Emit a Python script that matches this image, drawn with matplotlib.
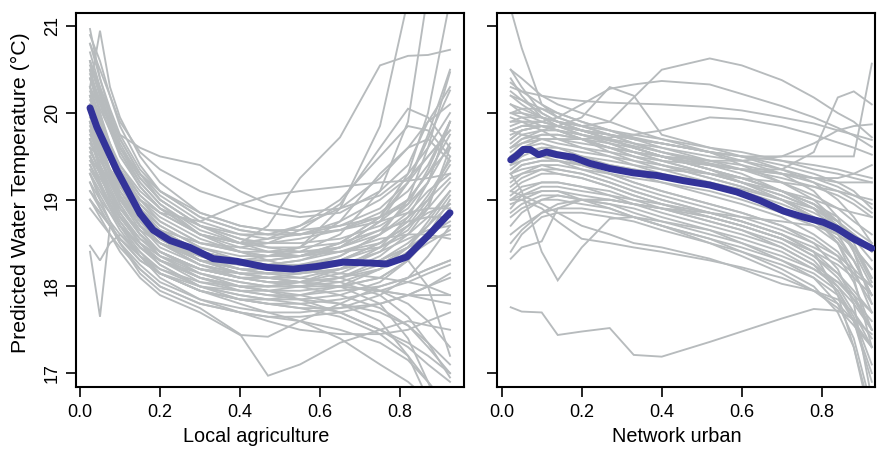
import matplotlib
matplotlib.use("Agg")
import matplotlib.pyplot as plt

plt.rcParams['font.family'] = ['Liberation Sans', 'DejaVu Sans']

# ---------------- Left panel: Local agriculture ----------------
x_left = [0.025, 0.05, 0.075, 0.1, 0.15, 0.2, 0.3, 0.4, 0.47, 0.55, 0.65, 0.75, 0.82, 0.87, 0.925]

gray_left = [
    [20.3, 20.95, 20.3, 19.95, 19.5, 19.2, 18.85, 18.7, 18.65, 18.6, 18.65, 18.8, 19.0, 19.3, 19.6],
    [20.97, 20.4, 20.0, 19.7, 19.3, 19.0, 18.7, 18.5, 18.4, 18.35, 18.4, 18.5, 18.7, 18.9, 19.2],
    [20.8, 20.5, 20.2, 19.9, 19.55, 19.35, 19.1, 18.95, 18.85, 18.8, 18.85, 19.1, 19.4, 19.9, 20.3],
    [20.6, 20.2, 19.9, 19.6, 19.25, 19.0, 18.7, 18.55, 18.5, 18.5, 18.55, 18.7, 18.9, 19.2, 19.9],
    [20.5, 20.1, 19.8, 19.5, 19.15, 18.9, 18.6, 18.5, 18.7, 19.25, 19.72, 20.55, 20.66, 20.67, 20.73],
    [20.4, 20.1, 19.9, 19.75, 19.6, 19.5, 19.4, 19.1, 18.95, 18.85, 18.9, 19.05, 19.3, 19.6, 20.0],
    [19.6, 19.5, 19.35, 19.2, 19.0, 18.85, 18.75, 18.95, 19.05, 19.1, 19.15, 19.2, 19.22, 19.25, 19.3],
    [20.2, 19.9, 19.6, 19.35, 19.0, 18.75, 18.5, 18.4, 18.4, 18.45, 18.9, 19.85, 21.3, 21.5, 21.5],
    [19.9, 19.6, 19.35, 19.15, 18.9, 18.7, 18.45, 18.35, 18.35, 18.4, 18.6, 19.1, 19.9, 21.4, 22.5],
    [20.0, 19.7, 19.45, 19.2, 18.9, 18.65, 18.4, 18.3, 18.3, 18.35, 18.5, 18.8, 19.3, 20.0, 21.3],
    [19.8, 19.5, 19.2, 19.0, 18.7, 18.5, 18.3, 18.2, 18.2, 18.25, 18.35, 18.6, 19.0, 19.6, 20.47],
    [20.1, 19.8, 19.5, 19.25, 18.95, 18.75, 18.5, 18.4, 18.35, 18.35, 18.45, 18.75, 19.2, 19.7, 20.26],
    [19.7, 19.4, 19.2, 19.0, 18.8, 18.65, 18.5, 18.45, 18.5, 18.65, 18.95, 19.6, 20.05, 19.95, 19.6],
    [20.3, 19.95, 19.6, 19.35, 19.05, 18.85, 18.6, 18.5, 18.55, 18.7, 19.0, 19.5, 19.85, 19.8, 19.5],
    [19.5, 19.3, 19.1, 18.9, 18.65, 18.5, 18.35, 18.3, 18.35, 18.45, 18.75, 19.3, 19.6, 19.7, 19.45],
    [19.9, 19.5, 19.2, 18.95, 18.6, 18.4, 18.2, 18.1, 18.1, 18.1, 18.2, 18.4, 18.7, 19.0, 19.4],
    [19.5, 19.2, 18.95, 18.75, 18.45, 18.3, 18.15, 18.05, 18.0, 18.0, 18.05, 18.2, 18.45, 18.75, 19.1],
    [20.2, 19.8, 19.45, 19.15, 18.8, 18.55, 18.35, 18.25, 18.2, 18.2, 18.3, 18.5, 18.7, 18.85, 18.95],
    [19.3, 19.1, 18.9, 18.7, 18.45, 18.3, 18.1, 18.0, 17.95, 17.95, 18.0, 18.1, 18.3, 18.55, 18.9],
    [20.5, 20.0, 19.6, 19.3, 18.9, 18.65, 18.4, 18.3, 18.25, 18.3, 18.4, 18.55, 18.6, 18.6, 18.55],
    [19.7, 19.35, 19.05, 18.8, 18.5, 18.3, 18.05, 17.95, 17.9, 17.9, 17.95, 18.0, 18.1, 18.2, 18.3],
    [19.1, 18.95, 18.75, 18.6, 18.35, 18.15, 17.95, 17.85, 17.85, 17.9, 18.0, 18.2, 18.4, 18.6, 18.75],
    [20.0, 19.65, 19.3, 19.05, 18.7, 18.45, 18.25, 18.15, 18.15, 18.2, 18.35, 18.6, 18.85, 19.1, 19.3],
    [19.6, 19.3, 19.0, 18.8, 18.5, 18.3, 18.1, 18.0, 18.0, 18.05, 18.15, 18.35, 18.6, 18.9, 19.6],
    [20.3, 19.9, 19.55, 19.25, 18.85, 18.6, 18.3, 18.15, 18.1, 18.05, 18.0, 17.95, 17.9, 17.85, 17.8],
    [19.8, 19.4, 19.1, 18.85, 18.5, 18.25, 18.0, 17.9, 17.85, 17.8, 17.7, 17.5, 17.3, 17.1, 16.9],
    [19.4, 19.15, 18.9, 18.7, 18.4, 18.15, 17.95, 17.85, 17.8, 17.75, 17.65, 17.45, 17.2, 16.9, 16.5],
    [20.0, 19.6, 19.3, 19.0, 18.65, 18.4, 18.15, 18.0, 17.95, 17.85, 17.7, 17.5, 17.35, 17.2, 17.0],
    [19.2, 18.9, 18.7, 18.5, 18.2, 18.0, 17.8, 17.7, 17.65, 17.6, 17.5, 17.35, 17.15, 16.9, 16.6],
    [19.5, 19.2, 18.95, 18.7, 18.35, 18.1, 17.85, 17.7, 17.6, 17.5, 17.45, 17.45, 17.5, 17.6, 17.7],
    [18.9, 18.75, 18.6, 18.45, 18.2, 18.0, 17.8, 17.7, 17.65, 17.65, 17.7, 17.8, 17.9, 18.0, 18.1],
    [19.3, 19.0, 18.75, 18.5, 18.15, 17.95, 17.75, 17.45, 16.97, 17.1, 17.35, 17.5, 17.6, 17.55, 17.5],
    [19.0, 18.8, 18.6, 18.4, 18.1, 17.9, 17.7, 17.44, 17.42, 17.6, 17.8, 18.0, 18.1, 18.2, 18.3],
    [18.4, 17.65, 18.7, 18.55, 18.3, 18.15, 17.95, 17.85, 17.8, 17.8, 17.85, 17.95, 18.05, 18.15, 18.25],
    [18.47, 18.3, 18.5, 18.6, 18.4, 18.2, 18.0, 17.9, 17.85, 17.85, 17.9, 18.05, 18.3, 18.6, 19.0],
    [19.6, 19.3, 19.0, 18.8, 18.5, 18.3, 18.1, 18.0, 17.95, 17.9, 17.8, 17.6, 17.2, 16.7, 16.0],
    [20.1, 19.7, 19.35, 19.1, 18.75, 18.5, 18.25, 18.15, 18.1, 18.05, 18.0, 17.8, 17.4, 16.9, 16.3],
    [19.9, 19.5, 19.2, 18.95, 18.6, 18.35, 18.15, 18.05, 18.0, 18.0, 18.0, 18.1, 18.3, 18.0, 17.2],
    [19.3, 19.05, 18.85, 18.65, 18.35, 18.15, 17.95, 17.8, 17.7, 17.6, 17.4, 17.1, 16.9, 16.7, 16.5],
    [20.7, 20.3, 19.95, 19.65, 19.25, 19.0, 18.7, 18.55, 18.45, 18.4, 18.4, 18.45, 18.6, 18.8, 19.1],
    [20.4, 20.0, 19.65, 19.35, 18.95, 18.7, 18.45, 18.3, 18.25, 18.25, 18.3, 18.45, 18.65, 18.95, 19.5],
    [19.9, 19.6, 19.3, 19.05, 18.7, 18.5, 18.3, 18.25, 18.25, 18.3, 18.45, 18.75, 19.0, 19.3, 19.75],
    [20.6, 20.25, 19.9, 19.6, 19.2, 18.95, 18.65, 18.5, 18.45, 18.45, 18.5, 18.65, 18.75, 18.8, 18.8],
    [19.0, 18.85, 18.7, 18.55, 18.3, 18.15, 18.0, 17.95, 17.95, 18.0, 18.1, 18.3, 18.5, 18.7, 18.95],
    [20.2, 19.85, 19.5, 19.2, 18.8, 18.55, 18.3, 18.2, 18.15, 18.15, 18.2, 18.3, 18.45, 18.55, 18.6],
    [19.7, 19.4, 19.15, 18.9, 18.6, 18.4, 18.2, 18.1, 18.05, 18.05, 18.1, 18.25, 18.45, 18.7, 19.05],
    [20.9, 20.6, 20.2, 19.85, 19.4, 19.1, 18.8, 18.65, 18.6, 18.6, 18.7, 18.9, 19.2, 19.5, 19.8],
    [19.8, 19.55, 19.3, 19.1, 18.8, 18.6, 18.4, 18.3, 18.25, 18.2, 18.15, 18.1, 18.05, 18.0, 17.9],
    [20.3, 20.05, 19.8, 19.55, 19.2, 18.95, 18.6, 18.4, 18.3, 18.2, 18.1, 17.95, 17.8, 17.6, 17.3],
    [19.2, 19.0, 18.85, 18.7, 18.5, 18.35, 18.2, 18.15, 18.15, 18.2, 18.3, 18.5, 18.75, 19.05, 19.45],
    [20.0, 19.75, 19.5, 19.3, 19.0, 18.8, 18.55, 18.4, 18.35, 18.35, 18.45, 18.65, 18.95, 19.35, 19.9],
    [19.4, 19.2, 18.95, 18.75, 18.45, 18.25, 18.0, 17.85, 17.8, 17.75, 17.75, 17.8, 17.9, 18.0, 18.15],
    [20.6, 20.3, 20.0, 19.7, 19.3, 19.05, 18.75, 18.6, 18.55, 18.6, 18.75, 19.0, 19.25, 19.5, 19.8],
    [19.95, 19.7, 19.45, 19.2, 18.85, 18.6, 18.35, 18.2, 18.15, 18.1, 18.05, 17.9, 17.65, 17.35, 16.95],
    [19.55, 19.35, 19.1, 18.9, 18.6, 18.4, 18.2, 18.1, 18.1, 18.15, 18.25, 18.4, 18.55, 18.65, 18.7],
    [20.45, 20.15, 19.85, 19.6, 19.3, 19.1, 18.85, 18.7, 18.65, 18.65, 18.7, 18.8, 18.95, 19.2, 19.65],
    [19.1, 18.9, 18.7, 18.5, 18.25, 18.05, 17.85, 17.75, 17.7, 17.7, 17.75, 17.9, 18.1, 18.35, 18.7],
    [20.15, 19.9, 19.6, 19.4, 19.05, 18.85, 18.6, 18.5, 18.5, 18.55, 18.65, 18.85, 19.1, 19.4, 19.9],
    [19.75, 19.5, 19.25, 19.0, 18.7, 18.5, 18.25, 18.1, 18.05, 18.0, 17.9, 17.75, 17.55, 17.3, 17.0],
    [20.8, 20.4, 20.05, 19.75, 19.35, 19.1, 18.8, 18.65, 18.6, 18.6, 18.65, 18.75, 18.85, 18.9, 18.9],
    [19.35, 19.15, 18.95, 18.8, 18.55, 18.4, 18.2, 18.1, 18.05, 18.05, 18.1, 18.2, 18.35, 18.5, 18.65],
    [20.05, 19.75, 19.45, 19.2, 18.85, 18.65, 18.4, 18.3, 18.3, 18.35, 18.5, 18.8, 19.2, 19.75, 20.5],
    [19.65, 19.45, 19.25, 19.05, 18.75, 18.55, 18.3, 18.15, 18.1, 18.05, 18.0, 17.95, 17.9, 17.9, 17.9],
    [20.55, 20.2, 19.85, 19.55, 19.15, 18.9, 18.6, 18.45, 18.4, 18.4, 18.45, 18.6, 18.8, 19.0, 19.25],
    [19.0, 18.85, 18.7, 18.55, 18.35, 18.2, 18.05, 18.0, 18.0, 18.05, 18.2, 18.45, 18.8, 19.2, 19.9],
    [20.25, 19.95, 19.65, 19.4, 19.1, 18.9, 18.7, 18.6, 18.6, 18.7, 18.9, 19.25, 19.6, 19.9, 20.1],
    [19.85, 19.55, 19.3, 19.05, 18.75, 18.55, 18.3, 18.2, 18.15, 18.15, 18.2, 18.3, 18.45, 18.6, 18.85],
    [19.45, 19.25, 19.05, 18.85, 18.55, 18.35, 18.1, 17.95, 17.9, 17.85, 17.8, 17.7, 17.55, 17.35, 17.1],
]

mean_left_x = [0.025, 0.042, 0.067, 0.092, 0.121, 0.15, 0.183, 0.225, 0.275, 0.333,
               0.392, 0.467, 0.533, 0.592, 0.658, 0.725, 0.767, 0.817, 0.867, 0.925]
mean_left_y = [20.06, 19.84, 19.59, 19.34, 19.09, 18.84, 18.65, 18.53, 18.45, 18.32,
               18.29, 18.22, 18.20, 18.23, 18.28, 18.27, 18.26, 18.34, 18.57, 18.85]

# ---------------- Right panel: Network urban ----------------
x_right = [0.0225, 0.05, 0.1, 0.14, 0.2, 0.27, 0.33, 0.4, 0.52, 0.6, 0.7, 0.78, 0.84, 0.88, 0.925]

gray_right = [
    [21.2, 20.75, 20.1, 19.95, 19.85, 19.75, 19.65, 19.55, 19.4, 19.3, 19.1, 18.9, 18.6, 18.3, 17.9],
    [19.9, 19.95, 19.95, 19.9, 19.85, 19.9, 20.18, 20.5, 20.63, 20.55, 20.38, 20.18, 20.0, 19.9, 19.72],
    [19.8, 19.85, 19.9, 19.95, 20.1, 20.28, 20.33, 20.37, 20.33, 20.22, 20.08, 19.95, 19.83, 19.74, 19.61],
    [20.3, 20.25, 20.2, 20.17, 20.14, 20.12, 20.11, 20.1, 20.07, 20.03, 19.95, 19.88, 19.8, 19.75, 19.69],
    [19.6, 19.7, 19.8, 19.85, 19.95, 20.3, 20.2, 19.75, 19.6, 19.5, 19.35, 19.2, 19.0, 18.8, 18.5],
    [19.5, 19.6, 19.7, 19.7, 19.7, 19.72, 19.75, 19.8, 19.95, 19.93, 19.85, 19.75, 19.66, 19.6, 19.52],
    [19.7, 19.8, 19.85, 19.8, 19.75, 19.68, 19.62, 19.55, 19.42, 19.35, 19.35, 19.55, 20.18, 20.25, 20.1],
    [20.0, 20.05, 20.05, 20.0, 19.9, 19.8, 19.72, 19.65, 19.55, 19.5, 19.5, 19.5, 19.5, 19.5, 20.57],
    [17.76, 17.71, 17.70, 17.44, 17.48, 17.52, 17.21, 17.19, 17.36, 17.48, 17.63, 17.74, 17.72, 17.62, 17.45],
    [19.3, 19.1, 18.4, 18.07, 18.45, 18.78, 18.8, 18.75, 18.65, 18.55, 18.4, 18.2, 18.0, 17.8, 17.5],
    [18.32, 18.45, 18.52, 18.9, 19.0, 19.0, 18.95, 18.9, 18.75, 18.65, 18.45, 18.25, 18.05, 17.85, 17.6],
    [19.0, 19.0, 18.9, 18.75, 18.55, 18.5, 18.45, 18.4, 18.3, 18.22, 18.1, 17.95, 17.8, 17.6, 17.3],
    [19.1, 19.05, 18.95, 18.85, 18.7, 18.6, 18.5, 18.45, 18.32, 18.2, 18.03, 17.95, 17.85, 17.7, 17.4],
    [19.5, 19.6, 19.65, 19.6, 19.5, 19.4, 19.35, 19.28, 19.15, 19.05, 18.9, 18.75, 18.6, 18.45, 18.2],
    [19.2, 19.3, 19.4, 19.4, 19.35, 19.3, 19.25, 19.2, 19.1, 19.0, 18.85, 18.7, 18.5, 18.3, 17.9],
    [19.8, 19.85, 19.85, 19.8, 19.7, 19.6, 19.55, 19.5, 19.4, 19.35, 19.25, 19.15, 19.05, 18.95, 18.8],
    [20.2, 20.1, 19.95, 19.85, 19.75, 19.65, 19.6, 19.5, 19.35, 19.2, 19.0, 18.8, 18.5, 18.2, 17.7],
    [18.9, 19.05, 19.15, 19.15, 19.1, 19.05, 19.0, 18.95, 18.85, 18.75, 18.6, 18.4, 18.15, 17.9, 17.5],
    [19.4, 19.45, 19.5, 19.5, 19.45, 19.4, 19.35, 19.3, 19.2, 19.12, 19.0, 18.9, 18.75, 18.6, 18.4],
    [20.4, 20.2, 19.95, 19.85, 19.8, 19.75, 19.7, 19.65, 19.55, 19.45, 19.3, 19.1, 18.8, 18.4, 17.8],
    [19.0, 19.1, 19.2, 19.2, 19.15, 19.05, 18.95, 18.85, 18.7, 18.6, 18.45, 18.25, 17.95, 17.6, 16.9],
    [19.6, 19.7, 19.75, 19.75, 19.7, 19.6, 19.5, 19.4, 19.25, 19.15, 19.0, 18.8, 18.5, 18.1, 17.3],
    [19.3, 19.4, 19.45, 19.45, 19.4, 19.3, 19.2, 19.1, 18.95, 18.85, 18.7, 18.5, 18.2, 17.8, 16.7],
    [20.0, 19.95, 19.85, 19.8, 19.7, 19.6, 19.5, 19.4, 19.25, 19.15, 19.0, 18.85, 18.7, 18.6, 18.45],
    [19.1, 19.2, 19.3, 19.3, 19.25, 19.15, 19.05, 18.95, 18.8, 18.7, 18.55, 18.4, 18.25, 18.1, 17.9],
    [19.7, 19.8, 19.85, 19.85, 19.8, 19.75, 19.7, 19.65, 19.55, 19.5, 19.4, 19.3, 19.2, 19.1, 18.9],
    [20.5, 20.3, 20.0, 19.9, 19.8, 19.7, 19.6, 19.5, 19.35, 19.25, 19.1, 18.95, 18.8, 18.65, 18.5],
    [18.8, 18.9, 19.0, 19.05, 19.0, 18.95, 18.9, 18.8, 18.65, 18.5, 18.3, 18.1, 17.8, 17.4, 16.6],
    [19.9, 19.9, 19.9, 19.85, 19.8, 19.7, 19.6, 19.5, 19.35, 19.25, 19.1, 18.95, 18.7, 18.4, 18.0],
    [19.4, 19.5, 19.6, 19.55, 19.5, 19.45, 19.4, 19.35, 19.3, 19.25, 19.2, 19.15, 19.1, 19.05, 19.0],
    [19.0, 19.05, 19.1, 19.1, 19.05, 19.0, 18.95, 18.9, 18.85, 18.8, 18.75, 18.7, 18.6, 18.45, 18.2],
    [20.1, 20.05, 19.95, 19.9, 19.85, 19.8, 19.75, 19.7, 19.6, 19.55, 19.45, 19.35, 19.3, 19.25, 19.2],
    [19.5, 19.55, 19.55, 19.5, 19.4, 19.3, 19.2, 19.1, 18.95, 18.85, 18.7, 18.55, 18.35, 18.05, 17.5],
    [18.6, 18.7, 18.85, 18.9, 18.9, 18.85, 18.8, 18.7, 18.55, 18.4, 18.2, 18.0, 17.7, 17.3, 16.5],
    [19.8, 19.75, 19.7, 19.65, 19.6, 19.55, 19.5, 19.45, 19.4, 19.35, 19.3, 19.25, 19.2, 19.2, 19.2],
    [19.6, 19.65, 19.7, 19.7, 19.65, 19.6, 19.55, 19.5, 19.45, 19.45, 19.5, 19.65, 19.8, 19.85, 19.87],
    [19.3, 19.35, 19.4, 19.35, 19.3, 19.2, 19.1, 19.0, 18.85, 18.75, 18.6, 18.4, 17.9, 17.3, 16.4],
    [18.5, 18.65, 18.85, 18.95, 19.0, 19.0, 18.95, 18.9, 18.8, 18.7, 18.55, 18.35, 18.1, 17.85, 17.5],
    [20.5, 20.4, 20.2, 20.1, 20.0, 19.9, 19.8, 19.7, 19.55, 19.4, 19.2, 19.0, 18.75, 18.5, 18.1],
    [19.25, 19.3, 19.35, 19.3, 19.25, 19.15, 19.05, 18.95, 18.8, 18.7, 18.55, 18.35, 18.15, 17.95, 17.7],
    [20.2, 20.15, 20.05, 19.95, 19.85, 19.75, 19.65, 19.55, 19.45, 19.4, 19.3, 19.2, 19.1, 19.0, 18.85],
    [18.7, 18.85, 19.0, 19.0, 18.95, 18.9, 18.8, 18.7, 18.5, 18.35, 18.15, 17.95, 17.75, 17.55, 17.3],
    [19.55, 19.65, 19.75, 19.75, 19.7, 19.65, 19.55, 19.45, 19.3, 19.2, 19.05, 18.9, 18.75, 18.6, 18.4],
    [19.95, 19.9, 19.8, 19.7, 19.6, 19.5, 19.4, 19.3, 19.15, 19.05, 18.9, 18.75, 18.55, 18.3, 17.9],
    [19.15, 19.25, 19.35, 19.35, 19.3, 19.2, 19.1, 19.0, 18.85, 18.75, 18.6, 18.45, 18.3, 18.15, 18.0],
    [20.35, 20.25, 20.1, 20.0, 19.9, 19.8, 19.7, 19.6, 19.45, 19.35, 19.2, 19.05, 18.9, 18.75, 18.6],
    [18.95, 19.0, 19.1, 19.1, 19.0, 18.9, 18.8, 18.7, 18.55, 18.45, 18.3, 18.15, 17.95, 17.65, 17.1],
    [19.65, 19.75, 19.8, 19.8, 19.75, 19.7, 19.65, 19.6, 19.5, 19.45, 19.35, 19.25, 19.15, 19.05, 18.95],
    [19.35, 19.45, 19.5, 19.45, 19.35, 19.25, 19.15, 19.05, 18.9, 18.8, 18.65, 18.5, 18.35, 18.2, 18.0],
    [20.0, 20.0, 19.95, 19.9, 19.8, 19.7, 19.6, 19.5, 19.4, 19.35, 19.3, 19.25, 19.25, 19.3, 19.4],
    [18.4, 18.6, 18.8, 18.85, 18.85, 18.8, 18.75, 18.65, 18.5, 18.4, 18.25, 18.1, 17.9, 17.6, 17.0],
    [19.75, 19.8, 19.85, 19.8, 19.7, 19.55, 19.45, 19.35, 19.2, 19.1, 18.95, 18.8, 18.65, 18.45, 18.1],
    [19.45, 19.55, 19.6, 19.6, 19.55, 19.5, 19.45, 19.4, 19.3, 19.2, 19.1, 19.0, 18.9, 18.85, 18.8],
    [20.25, 20.15, 20.0, 19.9, 19.8, 19.7, 19.6, 19.5, 19.35, 19.25, 19.1, 18.95, 18.75, 18.55, 18.3],
    [19.05, 19.15, 19.2, 19.2, 19.15, 19.1, 19.0, 18.9, 18.75, 18.65, 18.5, 18.3, 18.0, 17.7, 17.3],
    [19.85, 19.9, 19.9, 19.85, 19.8, 19.75, 19.7, 19.65, 19.55, 19.5, 19.45, 19.4, 19.35, 19.3, 19.25],
    [19.3, 19.4, 19.45, 19.45, 19.4, 19.35, 19.3, 19.2, 19.05, 18.95, 18.8, 18.6, 18.4, 18.15, 17.8],
    [18.85, 18.95, 19.05, 19.05, 19.0, 18.95, 18.85, 18.75, 18.6, 18.5, 18.35, 18.2, 18.05, 17.9, 17.7],
    [20.1, 20.0, 19.9, 19.85, 19.75, 19.65, 19.55, 19.45, 19.3, 19.2, 19.05, 18.9, 18.7, 18.45, 18.05],
]

mean_right_x = [0.0225, 0.0375, 0.054, 0.071, 0.0917, 0.1125, 0.1375, 0.179, 0.22, 0.27, 0.329,
                0.3875, 0.454, 0.52, 0.5875, 0.646, 0.704, 0.754, 0.804, 0.8375, 0.879, 0.925]
mean_right_y = [19.46, 19.51, 19.58, 19.58, 19.52, 19.55, 19.52, 19.49, 19.42, 19.36, 19.31,
                19.28, 19.22, 19.17, 19.09, 18.99, 18.87, 18.80, 18.74, 18.67, 18.55, 18.44]

xlabels = ["Local agriculture", "Network urban"]
ylabel = "Predicted Water Temperature (\u00b0C)"
yticks = [17, 18, 19, 20, 21]
xticks = [0.0, 0.2, 0.4, 0.6, 0.8]

GRAY = "#B7BBBD"
BLUE = "#333399"
W, H = 877, 450

fig = plt.figure(figsize=(W / 100, H / 100), dpi=100)
ax1 = fig.add_axes([76 / W, 1 - 387 / H, (464 - 76) / W, (387 - 12.5) / H])
ax2 = fig.add_axes([496.7 / W, 1 - 387 / H, (875 - 496.7) / W, (387 - 12.5) / H])

for ax, xg, gl, mx, my, xlim in [
    (ax1, x_left, gray_left, mean_left_x, mean_left_y, (-0.01, 0.96)),
    (ax2, x_right, gray_right, mean_right_x, mean_right_y, (-0.0125, 0.933)),
]:
    for line in gl:
        ax.plot(xg, line, color=GRAY, lw=1.35, solid_joinstyle='miter', zorder=2)
    ax.plot(mx, my, color=BLUE, lw=5, solid_capstyle='round', solid_joinstyle='round', zorder=3)
    ax.set_xlim(*xlim)
    ax.set_ylim(16.84, 21.16)
    ax.set_xticks(xticks)
    ax.set_xticklabels([f"{t:.1f}" for t in xticks])
    ax.set_yticks(yticks)
    for s in ax.spines.values():
        s.set_linewidth(1.5)
        s.set_color("black")
    ax.tick_params(axis='both', direction='out', length=7, width=1.2, labelsize=13, color='black')
    ax.tick_params(axis='x', pad=5)
    ax.tick_params(axis='y', pad=4)

ax1.set_yticklabels([str(t) for t in yticks], rotation=90, va='center')
ax2.set_yticklabels([])

fig.text(256 / W, 1 - 437 / H, xlabels[0], fontsize=14.3, ha='center', va='center')
fig.text(677 / W, 1 - 437 / H, xlabels[1], fontsize=14.3, ha='center', va='center')
fig.text(20 / W, 1 - 192.5 / H, ylabel, fontsize=15.3, rotation=90, ha='center', va='center')

fig.savefig("out.png", dpi=100)
